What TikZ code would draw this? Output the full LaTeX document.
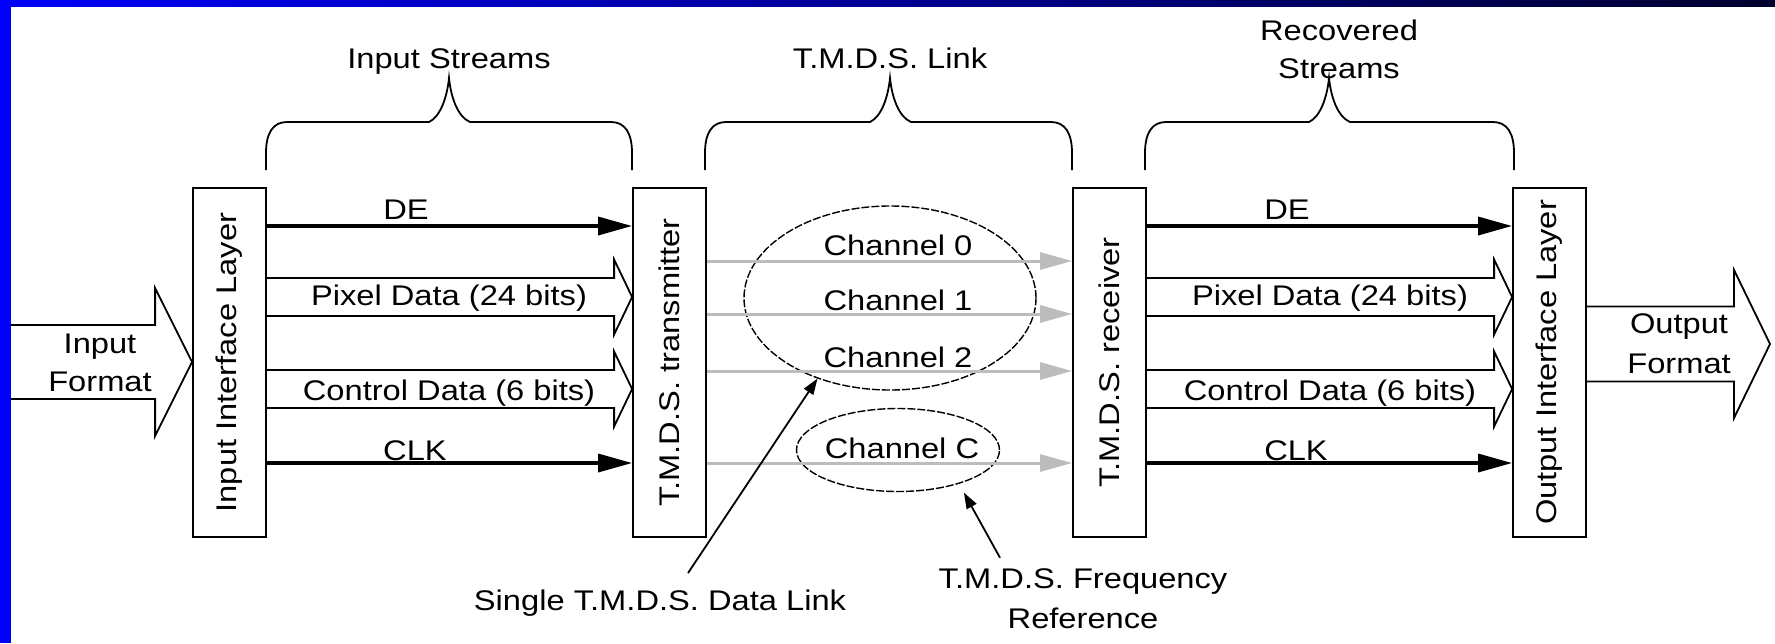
\documentclass[tikz,border=0pt]{standalone}
\usepackage{fontspec}
\setmainfont{Liberation Sans}[FakeStretch=1.15]
\usepackage{xcolor}
\usepackage{tikz}
\usetikzlibrary{arrows.meta,positioning,calc,shapes.geometric}
\definecolor{chgray}{RGB}{188,188,188}
\definecolor{slideblue}{RGB}{0,0,250}
\definecolor{slidenavy}{RGB}{0,0,45}
\newcommand\fatarrow[5]{\draw[hollow] ($(#1)+(0,-#3)$) -- ($(#2)+(-#5,-#3)$) -- ($(#2)+(-#5,-#4)$) -- (#2) -- ($(#2)+(-#5,#4)$) -- ($(#2)+(-#5,#3)$) -- ($(#1)+(0,#3)$);}
\newcommand\linkbrace[3]{\draw[brc] (#1,170) -- (#1,153) .. controls (#1,133) and ({#1+7},122) .. ({#1+21},122) -- ({#2-20},122) .. controls ({#2-9},117) and ({#2-2},98) .. (#2,78) .. controls ({#2+2},98) and ({#2+9},117) .. ({#2+21},122) -- ({#3-21},122) .. controls ({#3-7},122) and (#3,133) .. (#3,153) -- (#3,170);}

\begin{document}
\begin{tikzpicture}[x=0.5pt,y=-0.5pt,lbl/.style={font=\fontsize{14.2}{19}\selectfont,inner sep=0pt,anchor=base},wide/.style={lbl,align=center,font=\fontsize{14.2}{20}\selectfont},box/.style={draw,line width=0.9pt,minimum width=36.5pt,minimum height=174.5pt,inner sep=0pt,font=\fontsize{14.2}{19}\selectfont},sig/.style={line width=1.7pt,-{Triangle[length=17pt,width=9pt]}},hollow/.style={line width=0.9pt},chan/.style={chgray,line width=1.5pt,-{Triangle[length=16pt,width=8.5pt]}},grp/.style={draw,ellipse,dash pattern=on 4pt off 1pt,line width=0.7pt,inner sep=0pt},brc/.style={line width=0.9pt},note/.style={line width=0.9pt,-{Triangle[length=8pt,width=5.5pt]}}]
\fill[white] (0,0) rectangle (1775,643);
\useasboundingbox (0,0) rectangle (1775,643);
\node[box] (inl) at (229.5,362.5) {\rotatebox{90}{Input Interface Layer}};
\node[box] (tx) at (669.5,362.5) {\rotatebox{90}{T.M.D.S. transmitter}};
\node[box] (rx) at (1109.5,362.5) {\rotatebox{90}{T.M.D.S. receiver}};
\node[box] (outl) at (1549.5,362.5) {\rotatebox{90}{Output Interface Layer}};
\coordinate (rDE) at (0,226);
\coordinate (rPix) at (0,297);
\coordinate (rCtl) at (0,389);
\coordinate (rClk) at (0,463);
\coordinate (rC0) at (0,261);
\coordinate (rC1) at (0,314);
\coordinate (rC2) at (0,371);
\coordinate (inTail) at (0,362);
\coordinate (outTip) at (1770,344);
\linkbrace{266}{449}{632}
\linkbrace{705}{890}{1072}
\linkbrace{1145}{1329}{1514}
\node[lbl] (isLbl) at (449,68) {Input Streams};
\node[lbl] (tlLbl) at (890,68) {T.M.D.S. Link};
\node[lbl,align=center] (rsLbl) at (1339,78) {Recovered\\Streams};
\fatarrow{inTail}{inl.west |- inTail}{37}{74}{37}
\node[lbl,align=center] (inFmt) at (100,391) {Input\\Format};
\draw[sig] (inl.east |- rDE) -- (tx.west |- rDE);
\fatarrow{inl.east |- rPix}{tx.west |- rPix}{19}{37.5}{18}
\fatarrow{inl.east |- rCtl}{tx.west |- rCtl}{19}{37.5}{18}
\draw[sig] (inl.east |- rClk) -- (tx.west |- rClk);
\node[lbl] (deA) at (406,219) {DE};
\node[lbl] (pixA) at (449,305) {Pixel Data (24 bits)};
\node[lbl] (ctlA) at (449,400) {Control Data (6 bits)};
\node[lbl] (clkA) at (415,460) {CLK};
\node[grp,minimum width=146pt,minimum height=92pt] (grpData) at (890,298) {};
\node[grp,minimum width=101.5pt,minimum height=41.5pt] (grpClk) at (898,450) {};
\draw[chan] (tx.east |- rC0) -- (rx.west |- rC0);
\draw[chan] (tx.east |- rC1) -- (rx.west |- rC1);
\draw[chan] (tx.east |- rC2) -- (rx.west |- rC2);
\draw[chan] (tx.east |- rClk) -- (rx.west |- rClk);
\node[lbl] (ch0) at (898,255) {Channel 0};
\node[lbl] (ch1) at (898,310) {Channel 1};
\node[lbl] (ch2) at (898,367) {Channel 2};
\node[lbl] (chC) at (902,458) {Channel C};
\draw[sig] (rx.east |- rDE) -- (outl.west |- rDE);
\fatarrow{rx.east |- rPix}{outl.west |- rPix}{19}{37.5}{18}
\fatarrow{rx.east |- rCtl}{outl.west |- rCtl}{19}{37.5}{18}
\draw[sig] (rx.east |- rClk) -- (outl.west |- rClk);
\node[lbl] (deB) at (1287,219) {DE};
\node[lbl] (pixB) at (1330,305) {Pixel Data (24 bits)};
\node[lbl] (ctlB) at (1330,400) {Control Data (6 bits)};
\node[lbl] (clkB) at (1296,460) {CLK};
\fatarrow{outl.east |- outTip}{outTip}{37.5}{74}{36}
\node[wide] (outFmt) at (1679,373) {Output\\Format};
\node[lbl] (lnkLbl) at (660,610) {Single T.M.D.S. Data Link};
\node[wide] (frqLbl) at (1083,628) {T.M.D.S. Frequency\\Reference};
\draw[note] ($(lnkLbl.north)+(28,-16)$) -- (grpData.228);
\draw[note,shorten >=5pt] ($(frqLbl.north)+(-83,-10)$) -- (grpClk.-29);
\shade[left color=slideblue,right color=slidenavy] (0,0) rectangle (1775,6);
\fill[slideblue] (0,0) rectangle (11,643);
\end{tikzpicture}
\end{document}
